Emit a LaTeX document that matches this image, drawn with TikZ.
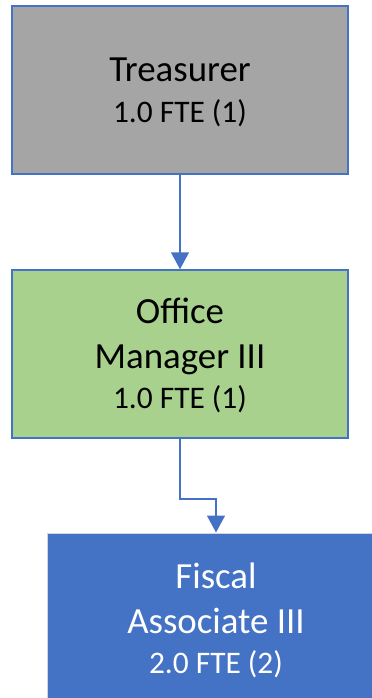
\documentclass[tikz,border=0pt]{standalone}
\usepackage{fontspec}
\setmainfont{Carlito}
\usetikzlibrary{arrows.meta}
\definecolor{bordblue}{HTML}{4472C4}
\definecolor{boxgray}{HTML}{A5A5A5}
\definecolor{boxgreen}{HTML}{A9D18E}
\definecolor{boxblue}{HTML}{4472C4}
\definecolor{lightedge}{HTML}{D0D4DC}
\tikzset{
  posbox/.style={rectangle, minimum width=336bp, minimum height=168bp, inner sep=0pt, line width=1.5bp},
  bigtxt/.style={anchor=base, inner sep=0pt, font=\fontsize{37}{44}\selectfont},
  smalltxt/.style={anchor=base, inner sep=0pt, font=\fontsize{31.5}{36}\selectfont},
  conn/.style={draw=bordblue, line width=1.5bp, -{Triangle[width=18bp,length=17bp]}}
}
\begin{document}
\begin{tikzpicture}[x=1bp,y=-1bp]
\useasboundingbox (0,0) rectangle (371,698);
\node[posbox, draw=bordblue, fill=boxgray] (tr) at (180,90) {};
\node[posbox, draw=bordblue, fill=boxgreen] (om) at (180,354) {};
\node[posbox, draw=lightedge, line width=1bp, fill=boxblue] (fa) at (216,617) {};
\node[bigtxt] (trA) at (180,82) {Treasurer};
\node[smalltxt] (trB) at (180,123) {1.0 FTE (1)};
\node[bigtxt] (omA) at (180,323) {Office};
\node[bigtxt] (omB) at (180,368) {Manager III};
\node[smalltxt] (omC) at (180,408) {1.0 FTE (1)};
\node[bigtxt, text=white] (faA) at (216,588) {Fiscal};
\node[bigtxt, text=white] (faB) at (216,633) {Associate III};
\node[smalltxt, text=white] (faC) at (216,673) {2.0 FTE (2)};
\draw[conn] (tr.south) -- (om.north);
\draw[conn] (om.south) -- ++(0,60) -| (fa.north);
\end{tikzpicture}
\end{document}
